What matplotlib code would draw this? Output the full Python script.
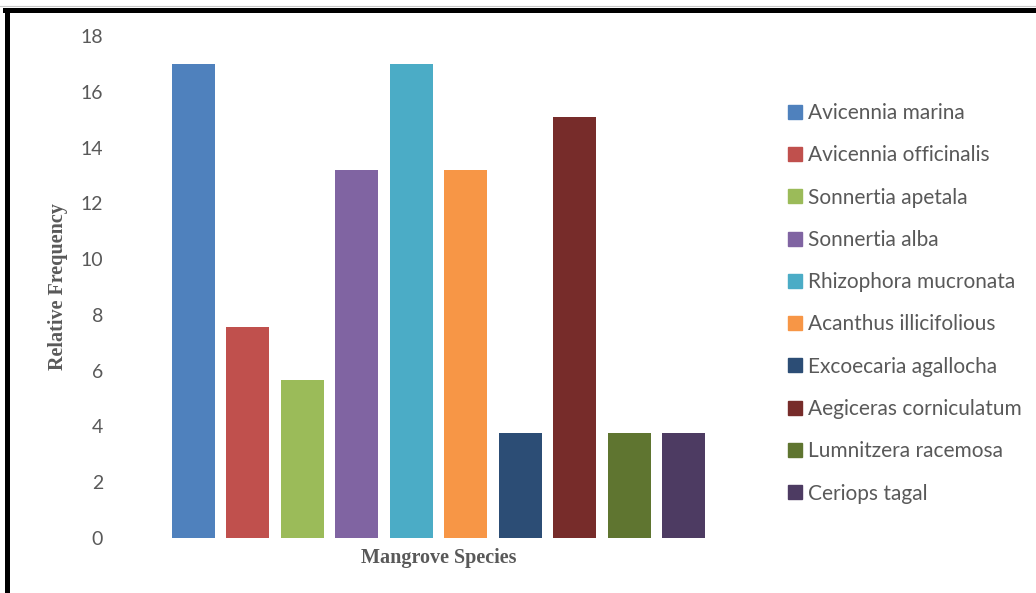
"""
Mangrove species relative frequency - clustered column chart
"""

import matplotlib
matplotlib.use('Agg')
import matplotlib.pyplot as plt
from matplotlib.lines import Line2D

# data
species = ['Avicennia marina', 'Avicennia officinalis', 'Sonnertia apetala',
           'Sonnertia alba', 'Rhizophora mucronata', 'Acanthus illicifolious',
           'Excoecaria agallocha', 'Aegiceras corniculatum', 'Lumnitzera racemosa',
           'Ceriops tagal']
rel_freq = [16.98, 7.55, 5.66, 13.21, 16.98, 13.21, 3.77, 15.09, 3.77, 3.77]
y_ticks = [0, 2, 4, 6, 8, 10, 12, 14, 16, 18]

# office 2010 palette
colors = ['#4F81BD', '#C0504D', '#9BBB59', '#8064A2', '#4BACC6',
          '#F79646', '#2C4D75', '#772C2A', '#5F7530', '#4D3B62']

W, H = 1036, 593
fig = plt.figure(figsize=(W / 100, H / 100), dpi=100)

# axes placement in pixels
left, right, top, bottom = 110, 767, 36, 538
ax = fig.add_axes([left / W, 1 - bottom / H, (right - left) / W, (bottom - top) / H])

step = 54.44  # px between bar centres
first_centre = 193.5
x = list(range(len(species)))
for i in x:
    ax.bar(i, rel_freq[i], width=0.79, color=colors[i], label=species[i])

ax.set_xlim(-(first_centre - left) / step, (right - first_centre) / step)
ax.set_ylim(0, 18)
ax.set_yticks(y_ticks)
ax.set_xticks([])

for s in ax.spines.values():
    s.set_visible(False)

ax.tick_params(axis='y', length=0, pad=5, labelsize=14, labelcolor='#595959')
for t in ax.get_yticklabels():
    t.set_family('Lato')

lab_font = dict(family='Liberation Serif', weight='bold', size=14.5, color='#595959')
ax.set_ylabel('Relative Frequency', labelpad=9, **lab_font)
ax.set_xlabel('Mangrove Species', labelpad=7, **lab_font)

# legend
handles = [Line2D([0], [0], marker='s', linestyle='none', markersize=9.5,
                  markerfacecolor=c, markeredgecolor=c) for c in colors]
leg = fig.legend(handles, species, loc='upper left',
                 bbox_to_anchor=(789 / W, 1 - 103 / H), frameon=False,
                 prop={'family': 'Lato', 'size': 15}, labelcolor='#595959',
                 handlelength=0.6, handletextpad=0.3, labelspacing=1.07,
                 borderpad=0, borderaxespad=0)

# frame lines around the figure
fig.add_artist(Line2D([4.5 / W, 1], [1 - 9.5 / H, 1 - 9.5 / H], color='black', lw=3.6,
                      transform=fig.transFigure, solid_capstyle='projecting'))
fig.add_artist(Line2D([6.5 / W, 6.5 / W], [1 - 9.5 / H, 0], color='black', lw=3.6,
                      transform=fig.transFigure, solid_capstyle='projecting'))
fig.add_artist(Line2D([0, 1], [1 - 5.5 / H, 1 - 5.5 / H], color='#c8c8c8', lw=0.8,
                      transform=fig.transFigure))

fig.savefig('out.png', dpi=100)
